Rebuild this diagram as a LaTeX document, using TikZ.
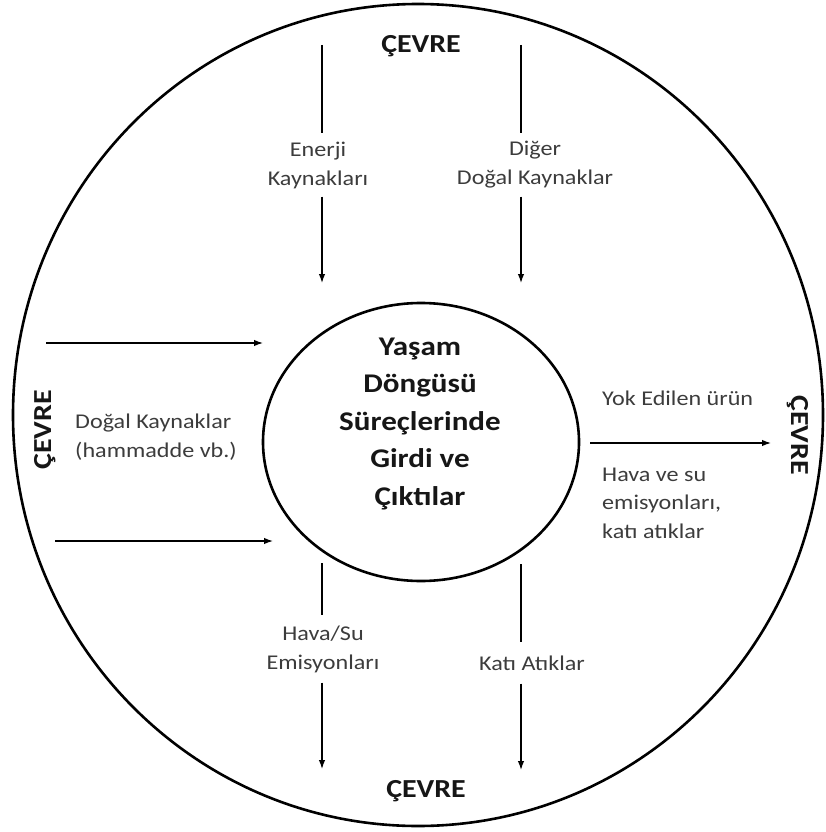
\documentclass[tikz,border=0pt]{standalone}
\usepackage{fontspec}
\setmainfont{Carlito}[FakeStretch=1.15]
\usetikzlibrary{arrows.meta,shapes.geometric}
\definecolor{labelgray}{RGB}{60,60,60}
\definecolor{titleink}{RGB}{22,22,22}
\begin{document}
\begin{tikzpicture}[x=1pt,y=-1pt,
  ring/.style={draw=black,line width=2.6pt,ellipse,inner sep=0pt},
  flow/.style={draw=black,line width=1.3pt},
  arr/.style={flow,-{Latex[length=9pt,width=6.5pt]}},
  lbl/.style={text=labelgray,font=\fontsize{21}{29}\selectfont,inner sep=0pt},
  env/.style={text=titleink,font=\bfseries\fontsize{26}{30}\selectfont,inner sep=0pt},
  core/.style={text=titleink,font=\bfseries\fontsize{27}{37.5}\selectfont,align=center,inner sep=0pt},
]
\useasboundingbox (0,0) rectangle (825,832);

% the surrounding environment and the life-cycle process
\node[ring,minimum width=810pt,minimum height=822pt] (world) at (418,415) {};
\node[ring,minimum width=316pt,minimum height=278pt] (process) at (421,442) {};
\node[core] (processtext) at (420,424) {Yaşam\\Döngüsü\\Süreçlerinde\\Girdi ve\\Çıktılar};

% environment labels
\node[env] (envtop) at (421,46) {ÇEVRE};
\node[env] (envbottom) at (426,791) {ÇEVRE};
\node[env,rotate=90] (envleft) at (45,430) {ÇEVRE};
\node[env,rotate=-90] (envright) at (798,435) {ÇEVRE};

% inputs from above
\coordinate (enA) at (322,45);
\coordinate (enB) at (322,283);
\node[lbl,align=center,inner ysep=8pt] (energy) at (318,165) {Enerji\\Kaynakları};
\draw[flow] (enA) -- (enA |- energy.north);
\draw[arr] (enA |- energy.south) -- (enB);

\coordinate (otA) at (521,45);
\coordinate (otB) at (521,283);
\node[lbl,align=center,inner ysep=8pt] (other) at (535,165) {Diğer\\Doğal Kaynaklar};
\draw[flow] (otA) -- (otA |- other.north);
\draw[arr] (otA |- other.south) -- (otB);

% inputs from the left
\coordinate (inA) at (46,343);
\coordinate (inB) at (263,343);
\coordinate (inC) at (55,541);
\coordinate (inD) at (273,541);
\draw[arr] (inA) -- (inB);
\draw[arr] (inC) -- (inD);
\node[lbl,align=left,anchor=west] (rawmat) at (75,437) {Doğal Kaynaklar\\(hammadde vb.)};

% outputs to the right
\coordinate (outA) at (590,443);
\coordinate (outB) at (771,443);
\draw[arr] (outA) -- (outB);
\node[lbl,anchor=west] (disposed) at (602,398) {Yok Edilen ürün};
\node[lbl,align=left,anchor=west,font=\fontsize{21}{28.5}\selectfont] (emis) at (602,503) {Hava ve su\\emisyonları,\\katı atıklar};

% outputs downwards
\coordinate (hsA) at (322,563);
\coordinate (hsB) at (322,769);
\node[lbl,align=center,inner ysep=10pt] (airwater) at (323,649) {Hava/Su\\Emisyonları};
\draw[flow] (hsA) -- (hsA |- airwater.north);
\draw[arr] (hsA |- airwater.south) -- (hsB);

\coordinate (swA) at (521,564);
\coordinate (swB) at (521,770);
\node[lbl,inner ysep=13pt] (solid) at (532,663) {Katı Atıklar};
\draw[flow] (swA) -- (swA |- solid.north);
\draw[arr] (swA |- solid.south) -- (swB);
\end{tikzpicture}
\end{document}
